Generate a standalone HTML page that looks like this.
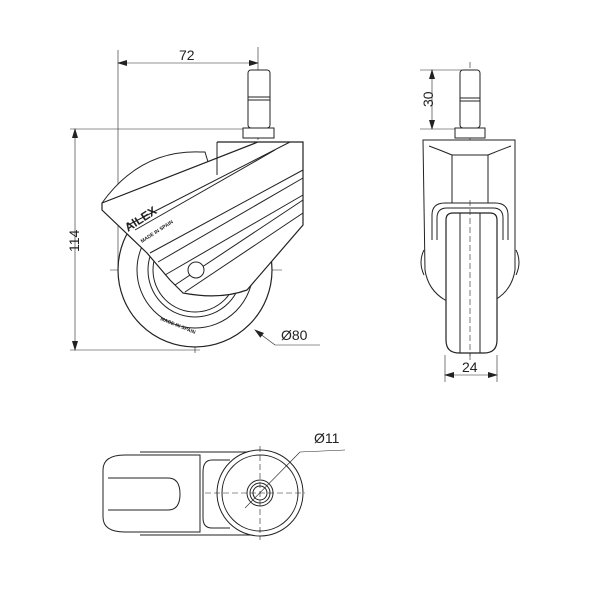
<!DOCTYPE html>
<html><head><meta charset="utf-8"><style>
html,body{margin:0;padding:0;background:#fff}
svg{display:block}
text{font-family:"Liberation Sans",sans-serif;fill:#222}
.d{font-size:14px}
</style></head><body>
<svg width="600" height="600" viewBox="0 0 600 600" xmlns="http://www.w3.org/2000/svg">
<defs>
<marker id="a" markerWidth="10" markerHeight="6" refX="9" refY="3" orient="auto" markerUnits="userSpaceOnUse"><path d="M0,0 L10,3 L0,6 Z" fill="#222"/></marker>
<marker id="b" markerWidth="10" markerHeight="6" refX="1" refY="3" orient="auto" markerUnits="userSpaceOnUse"><path d="M10,0 L0,3 L10,6 Z" fill="#222"/></marker>
</defs>
<g stroke="#222" fill="none" stroke-width="1">
<!-- SIDE VIEW -->
<g stroke-width="0.6">
<line x1="118" y1="50" x2="118" y2="270"/>
<line x1="258" y1="47" x2="258" y2="140"/>
<line x1="118" y1="63" x2="258" y2="63" marker-start="url(#b)" marker-end="url(#a)"/>
<line x1="70" y1="129" x2="245" y2="129"/>
<line x1="70" y1="350" x2="200" y2="350"/>
<line x1="75" y1="129" x2="75" y2="350" marker-start="url(#b)" marker-end="url(#a)"/>
<line x1="255" y1="330" x2="275" y2="345" marker-start="url(#b)"/>
<line x1="275" y1="345" x2="320" y2="345"/>
<line x1="110" y1="270" x2="282" y2="270"/>
<line x1="195" y1="185" x2="195" y2="355" stroke-dasharray="6,3"/>
<line x1="258" y1="70" x2="258" y2="240" stroke-dasharray="6,3"/>
</g>
<circle cx="195" cy="270" r="77" fill="#fff" stroke-width="1.2"/>
<circle cx="195" cy="270" r="58"/>
<circle cx="195" cy="270" r="47"/>
<circle cx="195" cy="270" r="42"/>
<rect x="248" y="70" width="22" height="58" rx="3" fill="#fff"/>
<line x1="248" y1="97" x2="270" y2="97"/><line x1="248" y1="100" x2="270" y2="100"/>
<rect x="243" y="128" width="31" height="10" fill="#fff"/>
<path d="M102,203 Q140,150 200,152 L205,152 L215,185" fill="#fff"/>
<path d="M217,142 L303,142 L303,225 L247,290 Q220,300 183,293 L170,280 L147,253 L102,210 L102,203 L258,142" fill="#fff" stroke-width="1.2"/>
<line x1="217" y1="142" x2="217" y2="175"/>
<path d="M128,225 L290,142 M150,253 L303,170 M165,275 L303,195 M185,292 L303,213"/>
<path d="M135,230 L275,150 M158,262 L303,178 M175,285 L303,200"/>
<circle cx="196" cy="270" r="8" fill="#fff"/>
<!-- FRONT VIEW -->
<g stroke-width="0.6">
<line x1="420" y1="70" x2="462" y2="70"/>
<line x1="420" y1="129" x2="458" y2="129"/>
<line x1="432" y1="70" x2="432" y2="129" marker-start="url(#b)" marker-end="url(#a)"/>
<line x1="445" y1="355" x2="445" y2="382"/>
<line x1="497" y1="355" x2="497" y2="382"/>
<line x1="445" y1="375" x2="497" y2="375" marker-start="url(#b)" marker-end="url(#a)"/>
<line x1="470" y1="62" x2="470" y2="360" stroke-dasharray="6,3"/>
</g>
<rect x="460" y="70" width="20" height="58" rx="3" fill="#fff"/>
<line x1="460" y1="98" x2="480" y2="98"/><line x1="460" y1="101" x2="480" y2="101"/>
<rect x="455" y="128" width="30" height="10" fill="#fff"/>
<path d="M423,140 L515,140 L515,270 Q512,290 495,300 L445,300 Q428,290 425,270 Z" fill="#fff"/>
<path d="M429,146 Q440,150 452,155 L488,155 Q500,150 511,146"/>
<rect x="452" y="155" width="36" height="48"/>
<path d="M432,240 L432,215 Q432,203 445,203 L495,203 Q508,203 508,215 L508,240"/>
<path d="M437,240 L437,218 Q437,208 447,208 L493,208 Q503,208 503,218 L503,240"/>
<path d="M446,220 L446,340 Q446,353 459,353 L484,353 Q497,353 497,340 L497,220 Q497,213 490,213 L453,213 Q446,213 446,220 Z" fill="#fff" stroke-width="1.2"/>
<line x1="460" y1="213" x2="460" y2="353"/><line x1="480" y1="213" x2="480" y2="353"/>
<path d="M424,250 Q418,262 424,275 M516,250 Q522,262 516,275"/>
<line x1="470" y1="200" x2="470" y2="360" stroke-dasharray="6,3" stroke-width="0.6"/>
<!-- TOP VIEW -->
<path d="M140,452 L260,452 M140,535 L260,535"/>
<path d="M103,470 Q103,455 125,455 L200,455 L200,532 L125,532 Q103,532 103,517 Z" fill="#fff"/>
<path d="M108,478 L168,478 Q180,478 180,494 Q180,510 168,510 L108,510"/>
<line x1="200" y1="455" x2="200" y2="532"/>
<path d="M230,460 L212,460 Q203,460 203,472 L203,518 Q203,528 212,528 L230,528"/>
<circle cx="260" cy="493" r="43" fill="#fff"/>
<circle cx="260" cy="493" r="38"/>
<circle cx="260" cy="493" r="13"/><circle cx="260" cy="493" r="10"/><circle cx="260" cy="493" r="7"/>
<g stroke-width="0.6">
<line x1="205" y1="493" x2="305" y2="493" stroke-dasharray="6,3"/>
<line x1="260" y1="446" x2="260" y2="540" stroke-dasharray="6,3"/>
<line x1="245" y1="508" x2="300" y2="452"/>
<line x1="300" y1="452" x2="345" y2="450"/>
</g>
</g>
<text x="128" y="232" transform="rotate(-33 128 232)" style="font-size:12px;font-weight:bold">AlLEX</text>
<text x="142" y="243" transform="rotate(-33 142 243)" style="font-size:5px;font-weight:bold">MADE IN SPAIN</text>
<text x="160" y="320" transform="rotate(22 160 320)" style="font-size:5px;font-weight:bold">MADE IN SPAIN</text>
<text class="d" x="179" y="60">72</text>
<text class="d" x="57" y="250" transform="rotate(-90 69 240)">114</text>
<text class="d" x="281" y="340">Ø80</text>
<text class="d" x="420" y="106" transform="rotate(-90 427 100)">30</text>
<text class="d" x="462" y="372">24</text>
<text class="d" x="314" y="443">Ø11</text>
</svg>
</body></html>
